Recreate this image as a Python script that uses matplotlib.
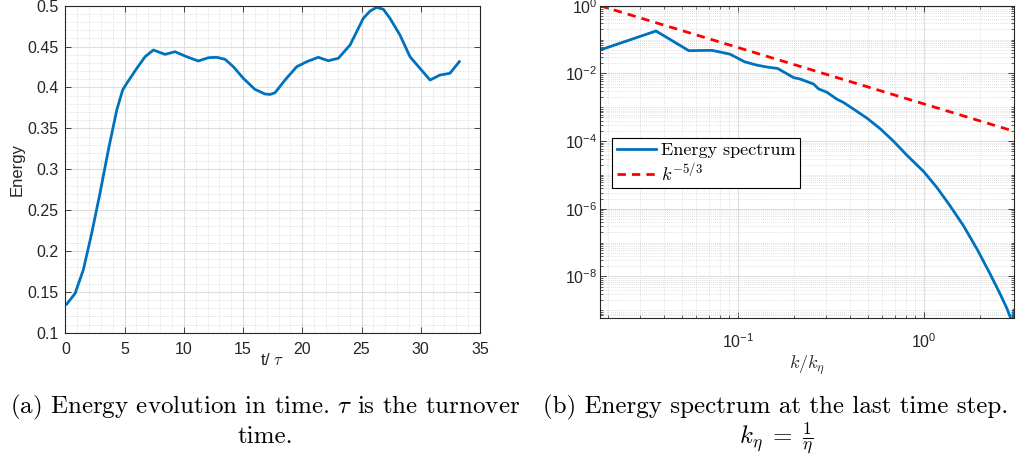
import numpy as np
import matplotlib
matplotlib.use("Agg")
import matplotlib.pyplot as plt
from matplotlib.ticker import FixedLocator, LogLocator, FuncFormatter, MultipleLocator, NullFormatter

# ---------------- data ----------------
t_tau = [0.12, 0.82, 1.52, 2.23, 2.93, 3.63, 4.34, 4.84, 5.18, 6.03, 6.73,
         7.43, 8.41, 9.26, 10.24, 11.22, 12.07, 12.78, 13.48, 14.18, 15.02,
         16.0, 16.85, 17.3, 17.7, 18.54, 19.53, 20.37, 21.35, 22.19, 23.04, 24.03,
         25.15, 25.72, 26.28, 26.84, 27.4, 28.24, 29.09, 29.93, 30.78, 31.62, 32.46, 33.25]
energy = [0.135, 0.148, 0.177, 0.222, 0.271, 0.3235, 0.3724, 0.397, 0.405, 0.4234, 0.4376,
          0.4458, 0.4405, 0.4437, 0.4376, 0.4324, 0.4364, 0.4369, 0.4344, 0.4254, 0.4112,
          0.3977, 0.392, 0.3915, 0.3936, 0.4091, 0.4254, 0.4315, 0.4369, 0.4327, 0.4357, 0.4519,
          0.4846, 0.4935, 0.498, 0.4956, 0.4846, 0.4642, 0.4376, 0.4234, 0.4091, 0.4152, 0.4173, 0.4315]

k_over_keta = [0.0182, 0.0364, 0.0546, 0.0728, 0.091, 0.109, 0.127, 0.146, 0.164,
               0.200, 0.217, 0.256, 0.272, 0.302, 0.342, 0.371, 0.421, 0.496,
               0.585, 0.690, 0.813, 1.0, 1.18, 1.39, 1.64, 1.94, 2.28, 2.58, 2.81,
               2.95, 3.01, 3.06]
spectrum = [0.049, 0.179, 0.047, 0.048, 0.037, 0.022, 0.0175, 0.0152, 0.0140,
            0.0075, 0.0068, 0.00485, 0.0035, 0.00277, 0.00172, 0.00138, 8.7e-4, 4.75e-4,
            2.3e-4, 9.8e-5, 3.8e-5, 1.26e-5, 4.2e-6, 1.2e-6, 3.1e-7, 6.3e-8, 1.17e-8, 3.0e-9, 1.1e-9,
            5.5e-10, 4.0e-10, 1.0e-9]

kolmogorov_exp = -5.0 / 3.0

xlim_left = (0, 35)
ylim_left = (0.1, 0.5)
xlim_right = (0.0182, 3.06)
ylim_right = (5.9e-10, 1.0)

caption_a = [r"(a) Energy evolution in time. $\tau$ is the turnover", "time."]
caption_b = ["(b) Energy spectrum at the last time step.", r"$k_\eta \;=\; \frac{1}{\eta}$"]

# ---------------- style ----------------
SANS = 'Liberation Sans'
plt.rcParams['font.family'] = [SANS, 'DejaVu Sans']
plt.rcParams['mathtext.fontset'] = 'cm'
plt.rcParams['axes.unicode_minus'] = True
AX_COL = '#262626'
MAJ_GRID = '#dedede'
MIN_GRID = '#c4c4c4'
BLUE = '#0072BD'
TICK_FS = 11.5

fig = plt.figure(figsize=(10.29, 4.61), dpi=100)
axL = fig.add_axes([0.0635, 0.2783, 0.403, 0.7093])
axR = fig.add_axes([0.5831, 0.3102, 0.4023, 0.6774])


def style_axes(ax):
    for s in ax.spines.values():
        s.set_color(AX_COL)
        s.set_linewidth(0.8)
    ax.tick_params(which='both', direction='in', top=True, right=True,
                   colors=AX_COL, labelcolor=AX_COL, labelsize=TICK_FS)
    ax.tick_params(which='major', length=4, width=0.6)
    ax.tick_params(which='minor', length=2.2, width=0.5)
    ax.grid(which='major', color=MAJ_GRID, linewidth=0.8, linestyle='-')
    ax.grid(which='minor', color=MIN_GRID, linewidth=0.5, linestyle=(0, (1, 2)))
    ax.set_axisbelow(True)


# ---------------- left panel ----------------
axL.plot(t_tau, energy, color=BLUE, linewidth=2.0)
axL.set_xlim(*xlim_left)
axL.set_ylim(*ylim_left)
axL.xaxis.set_major_locator(MultipleLocator(5))
axL.yaxis.set_major_locator(MultipleLocator(0.05))
axL.xaxis.set_minor_locator(MultipleLocator(1))
axL.yaxis.set_minor_locator(MultipleLocator(0.01))
axL.yaxis.set_major_formatter(FuncFormatter(lambda v, p: ('%.2f' % v).rstrip('0').rstrip('.') if v != 0 else '0'))
style_axes(axL)
axL.tick_params(which='minor', length=0)
axL.tick_params(axis='x', pad=7)
axL.tick_params(axis='y', pad=5)
axL.set_ylabel('Energy', fontsize=12, color=AX_COL, labelpad=2)
axL.set_xlabel(r't/ $\tau$', fontsize=12, color=AX_COL, labelpad=-4)

# ---------------- right panel ----------------
k = np.array(k_over_keta)
ref_line = (k / k[0]) ** kolmogorov_exp
axR.plot(k_over_keta, spectrum, color=BLUE, linewidth=2.0, label='Energy spectrum')
axR.plot(k_over_keta, ref_line, color='#ff0000', linewidth=2.0, linestyle=(0, (3.0, 2.2)),
         label=r'$k^{-5/3}$')
axR.set_xscale('log')
axR.set_yscale('log')
axR.set_xlim(*xlim_right)
axR.set_ylim(*ylim_right)
axR.xaxis.set_major_locator(FixedLocator([0.1, 1.0]))
axR.xaxis.set_minor_locator(LogLocator(base=10, subs=np.arange(2, 10), numticks=100))
axR.yaxis.set_major_locator(FixedLocator([1e-8, 1e-6, 1e-4, 1e-2, 1e0]))
axR.yaxis.set_minor_locator(LogLocator(base=10, subs=np.arange(1, 10), numticks=100))
fmt = FuncFormatter(lambda v, p: r'$\mathregular{10^{%d}}$' % int(round(np.log10(v))))
axR.xaxis.set_major_formatter(fmt)
axR.yaxis.set_major_formatter(fmt)
axR.xaxis.set_minor_formatter(NullFormatter())
axR.yaxis.set_minor_formatter(NullFormatter())
style_axes(axR)
axR.tick_params(axis='x', pad=10)
axR.tick_params(axis='y', pad=2)
axR.set_xlabel(r'$k/k_\eta$', fontsize=13, color=AX_COL, labelpad=2)

leg = axR.legend(loc='upper left', bbox_to_anchor=(0.029, 0.5764), borderaxespad=0,
                 fancybox=False, framealpha=1, edgecolor='#000000',
                 prop={'family': 'cmr10', 'size': 13},
                 handlelength=2.2, handletextpad=0.25, borderpad=0.25, labelspacing=0.15)
leg.get_frame().set_linewidth(0.8)

# ---------------- captions ----------------
cap_kw = dict(ha='center', va='center', fontfamily='cmr10', fontsize=18, color='black')
fig.text(265 / 1029, 1 - 407 / 461, caption_a[0], **cap_kw)
fig.text(265 / 1029, 1 - 437 / 461, caption_a[1], **cap_kw)
fig.text(776 / 1029, 1 - 407 / 461, caption_b[0], **cap_kw)
fig.text(776 / 1029, 1 - 438 / 461, caption_b[1], **cap_kw)

fig.savefig('out.png', dpi=100)
